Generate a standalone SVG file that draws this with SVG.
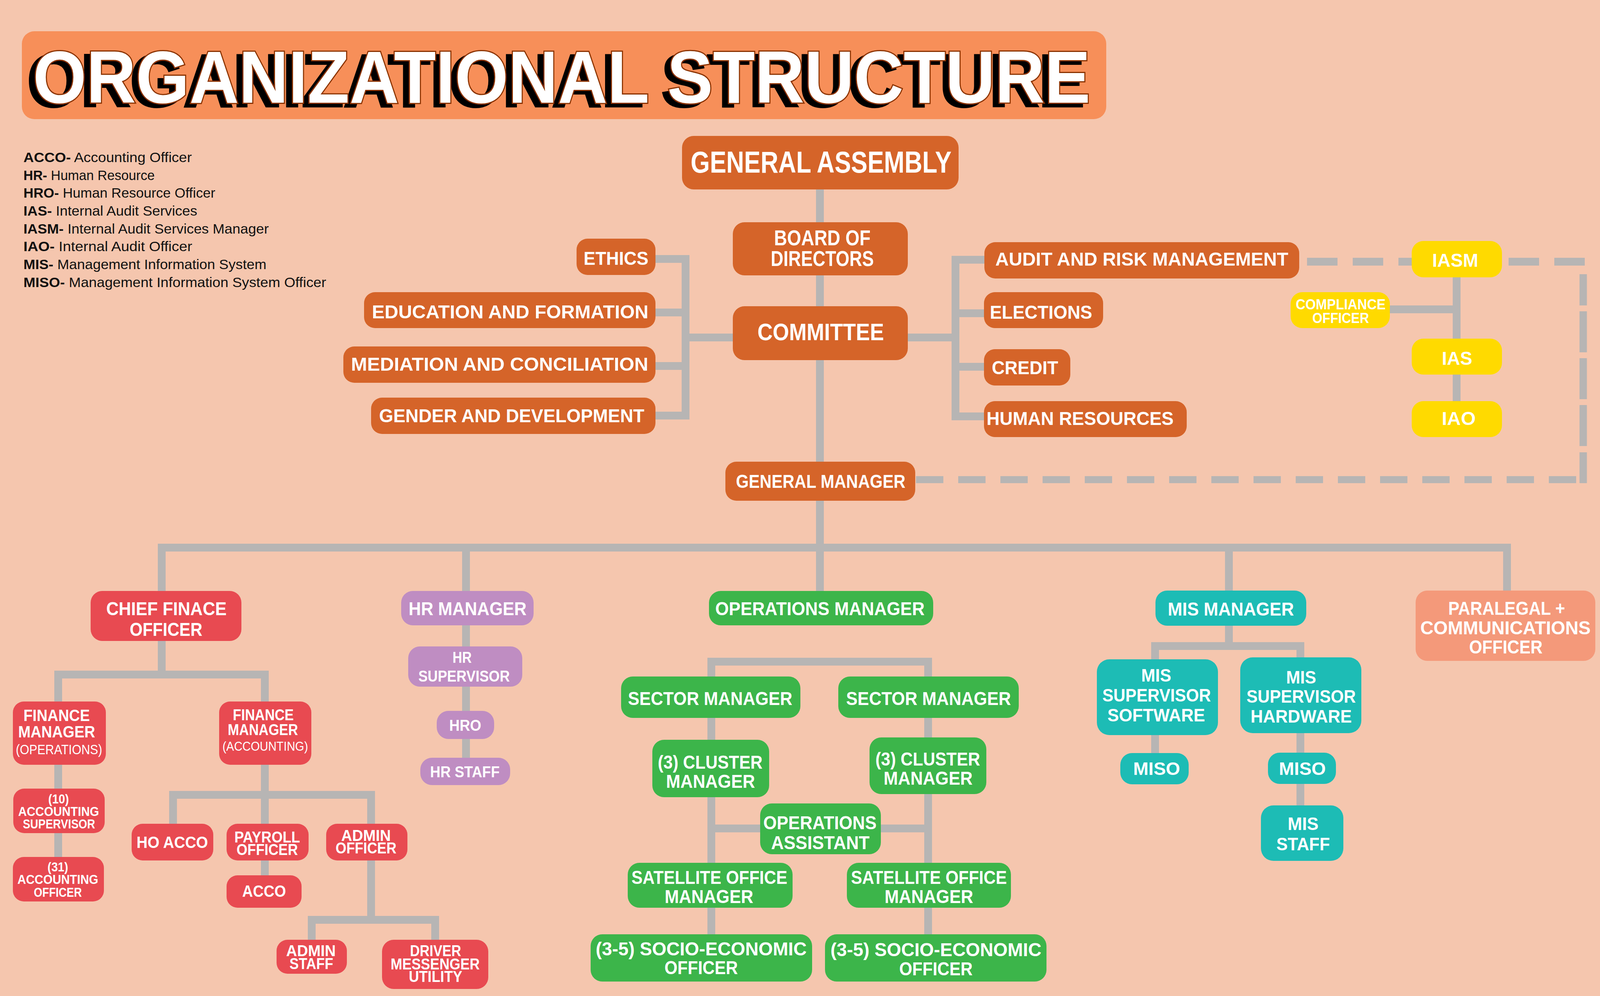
<svg xmlns="http://www.w3.org/2000/svg" width="4200" height="2550" viewBox="0 0 4200 2550">
<defs>
<filter id="sh" x="-5%" y="-20%" width="110%" height="150%">
<feOffset in="SourceAlpha" dx="-15" dy="9" result="o"/>
<feFlood flood-color="#000000"/>
<feComposite in2="o" operator="in" result="s"/>
<feMerge><feMergeNode in="s"/><feMergeNode in="SourceGraphic"/></feMerge>
</filter>
</defs>
<style>
.ln{stroke:#B7B5B4;stroke-width:20;fill:none;stroke-linejoin:miter;stroke-linecap:butt}
.d1{stroke:#B7B5B4;stroke-width:20;fill:none;stroke-dasharray:78 39}
.d2{stroke:#B7B5B4;stroke-width:18;fill:none;stroke-dasharray:70 38}
.d3{stroke:#B7B5B4;stroke-width:19;fill:none}
.o{fill:#D56429}
.y{fill:#FFDA00}
.r{fill:#E84A51}
.p{fill:#BF8DC2}
.g{fill:#3CB54A}
.t{fill:#1DBCB5}
.s{fill:#F4997A}
text{font-family:"Liberation Sans",Arial,sans-serif;font-weight:bold;fill:#FFFFFF;text-anchor:middle}
.lg{font-weight:normal;fill:#111111;text-anchor:start;font-size:35px}
.lt{font-weight:normal}
</style>
<rect width="4200" height="2550" fill="#F5C6AE"/>

<g id="title">
<rect x="56" y="80" width="2776" height="225" rx="32" fill="#F78F59"/>
<text x="1438" y="263" font-size="190" stroke="#8B3300" stroke-width="6" paint-order="stroke" filter="url(#sh)" textLength="2707" lengthAdjust="spacingAndGlyphs">ORGANIZATIONAL STRUCTURE</text>
</g>

<g id="legend">
<text class="lg" x="60" y="415" textLength="431" lengthAdjust="spacingAndGlyphs"><tspan font-weight="bold">ACCO-</tspan> Accounting Officer</text>
<text class="lg" x="60" y="461" textLength="336" lengthAdjust="spacingAndGlyphs"><tspan font-weight="bold">HR-</tspan> Human Resource</text>
<text class="lg" x="60" y="506" textLength="491" lengthAdjust="spacingAndGlyphs"><tspan font-weight="bold">HRO-</tspan> Human Resource Officer</text>
<text class="lg" x="60" y="552" textLength="445" lengthAdjust="spacingAndGlyphs"><tspan font-weight="bold">IAS-</tspan> Internal Audit Services</text>
<text class="lg" x="60" y="598" textLength="628" lengthAdjust="spacingAndGlyphs"><tspan font-weight="bold">IASM-</tspan> Internal Audit Services Manager</text>
<text class="lg" x="60" y="643" textLength="432" lengthAdjust="spacingAndGlyphs"><tspan font-weight="bold">IAO-</tspan> Internal Audit Officer</text>
<text class="lg" x="60" y="689" textLength="622" lengthAdjust="spacingAndGlyphs"><tspan font-weight="bold">MIS-</tspan> Management Information System</text>
<text class="lg" x="60" y="735" textLength="775" lengthAdjust="spacingAndGlyphs"><tspan font-weight="bold">MISO-</tspan> Management Information System Officer</text>
</g>

<g id="connectors">
<path class="ln" d="M2099,485 V1513"/>
<path class="ln" d="M1678,663 H1755 V1064 H1678 M1678,800 H1755 M1678,937 H1755 M1755,864 H1876"/>
<path class="ln" d="M2520,665 H2446 V1066 H2519 M2446,802 H2519 M2446,939 H2519 M2324,864 H2446"/>
<path class="ln" d="M3729,710 V1027 M3558,792 H3729"/>
<path class="d1" d="M3346,670 H3614"/>
<path class="d1" d="M3862,670 H4063"/>
<path class="d3" d="M4053,702 V782 M4053,797 V902 M4053,917 V1022 M4053,1037 V1142 M4053,1158 V1237"/>
<path class="d2" d="M2345,1228 H4035"/>
<path class="ln" d="M414,1513 V1402 H3858 V1512"/>
<path class="ln" d="M1193,1402 V1940"/>
<path class="ln" d="M3146,1402 V1512"/>
<path class="ln" d="M414,1641 V1727 M149,1796 V1727 H678 V1796"/>
<path class="ln" d="M149,1958 V2194 M678,1958 V2241"/>
<path class="ln" d="M443,2109 V2035 H950 V2109"/>
<path class="ln" d="M950,2203 V2355 M798,2406 V2355 H1114 V2406"/>
<path class="ln" d="M1821,2392 V1694 H2376 V2392 M1821,2121 H2376"/>
<path class="ln" d="M3146,1602 V1654 M2957,1688 V1654 H3329 V1683 M2957,1882 V1928 M3329,1877 V2062"/>
</g>

<g id="general-assembly"><rect class="o" x="1746" y="348" width="708" height="137" rx="30"/><text x="2102" y="442" font-size="77" textLength="668" lengthAdjust="spacingAndGlyphs">GENERAL ASSEMBLY</text></g>
<g id="board-of-directors"><rect class="o" x="1876" y="569" width="448" height="136" rx="30"/><text x="2105" y="628" font-size="56" textLength="247" lengthAdjust="spacingAndGlyphs">BOARD OF</text><text x="2105" y="681" font-size="56" textLength="264" lengthAdjust="spacingAndGlyphs">DIRECTORS</text></g>
<g id="committee"><rect class="o" x="1876" y="784" width="448" height="138" rx="30"/><text x="2101" y="871" font-size="62" textLength="324" lengthAdjust="spacingAndGlyphs">COMMITTEE</text></g>
<g id="general-manager"><rect class="o" x="1857" y="1182" width="486" height="100" rx="28"/><text x="2101" y="1249" font-size="48" textLength="434" lengthAdjust="spacingAndGlyphs">GENERAL MANAGER</text></g>
<g id="ethics"><rect class="o" x="1476" y="611" width="202" height="93" rx="28"/><text x="1577" y="678" font-size="49" textLength="166" lengthAdjust="spacingAndGlyphs">ETHICS</text></g>
<g id="education"><rect class="o" x="932" y="748" width="746" height="92" rx="28"/><text x="1306" y="815" font-size="49" textLength="708" lengthAdjust="spacingAndGlyphs">EDUCATION AND FORMATION</text></g>
<g id="mediation"><rect class="o" x="879" y="887" width="799" height="93" rx="28"/><text x="1279" y="949" font-size="49" textLength="761" lengthAdjust="spacingAndGlyphs">MEDIATION AND CONCILIATION</text></g>
<g id="gender"><rect class="o" x="950" y="1018" width="728" height="93" rx="28"/><text x="1310" y="1081" font-size="49" textLength="679" lengthAdjust="spacingAndGlyphs">GENDER AND DEVELOPMENT</text></g>
<g id="audit"><rect class="o" x="2520" y="620" width="806" height="93" rx="28"/><text x="2923" y="680" font-size="49" textLength="750" lengthAdjust="spacingAndGlyphs">AUDIT AND RISK MANAGEMENT</text></g>
<g id="elections"><rect class="o" x="2519" y="748" width="305" height="92" rx="28"/><text x="2665" y="816" font-size="49" textLength="262" lengthAdjust="spacingAndGlyphs">ELECTIONS</text></g>
<g id="credit"><rect class="o" x="2519" y="894" width="221" height="93" rx="28"/><text x="2624" y="958" font-size="49" textLength="170" lengthAdjust="spacingAndGlyphs">CREDIT</text></g>
<g id="human-resources"><rect class="o" x="2519" y="1027" width="519" height="92" rx="28"/><text x="2765" y="1088" font-size="49" textLength="479" lengthAdjust="spacingAndGlyphs">HUMAN RESOURCES</text></g>

<g id="iasm"><rect class="y" x="3614" y="617" width="231" height="93" rx="30"/><text x="3725" y="683" font-size="49" textLength="118" lengthAdjust="spacingAndGlyphs">IASM</text></g>
<g id="compliance"><rect class="y" x="3304" y="748" width="254" height="92" rx="30"/><text x="3432" y="792" font-size="36" textLength="230" lengthAdjust="spacingAndGlyphs">COMPLIANCE</text><text x="3432" y="827" font-size="36" textLength="145" lengthAdjust="spacingAndGlyphs">OFFICER</text></g>
<g id="ias"><rect class="y" x="3614" y="867" width="231" height="92" rx="30"/><text x="3730" y="934" font-size="49" textLength="78" lengthAdjust="spacingAndGlyphs">IAS</text></g>
<g id="iao"><rect class="y" x="3614" y="1027" width="231" height="92" rx="30"/><text x="3734" y="1088" font-size="49" textLength="87" lengthAdjust="spacingAndGlyphs">IAO</text></g>

<g id="cfo"><rect class="r" x="232" y="1513" width="386" height="128" rx="30"/><text x="426" y="1575" font-size="48" textLength="308" lengthAdjust="spacingAndGlyphs">CHIEF FINACE</text><text x="425" y="1628" font-size="48" textLength="186" lengthAdjust="spacingAndGlyphs">OFFICER</text></g>
<g id="fm-operations"><rect class="r" x="33" y="1796" width="238" height="162" rx="28"/><text x="145" y="1846" font-size="42" textLength="170" lengthAdjust="spacingAndGlyphs">FINANCE</text><text x="145" y="1888" font-size="42" textLength="197" lengthAdjust="spacingAndGlyphs">MANAGER</text><text class="lt" x="151" y="1931" font-size="35" textLength="221" lengthAdjust="spacingAndGlyphs">(OPERATIONS)</text></g>
<g id="fm-accounting"><rect class="r" x="561" y="1796" width="236" height="162" rx="28"/><text x="674" y="1844" font-size="40" textLength="156" lengthAdjust="spacingAndGlyphs">FINANCE</text><text x="673" y="1882" font-size="40" textLength="180" lengthAdjust="spacingAndGlyphs">MANAGER</text><text class="lt" x="679" y="1922" font-size="33" textLength="219" lengthAdjust="spacingAndGlyphs">(ACCOUNTING)</text></g>
<g id="acc-supervisor"><rect class="r" x="34" y="2019" width="234" height="114" rx="28"/><text x="150" y="2057" font-size="33" textLength="53" lengthAdjust="spacingAndGlyphs">(10)</text><text x="150" y="2089" font-size="33" textLength="207" lengthAdjust="spacingAndGlyphs">ACCOUNTING</text><text x="151" y="2121" font-size="33" textLength="185" lengthAdjust="spacingAndGlyphs">SUPERVISOR</text></g>
<g id="acc-officer"><rect class="r" x="33" y="2194" width="233" height="114" rx="28"/><text x="148" y="2231" font-size="33" textLength="53" lengthAdjust="spacingAndGlyphs">(31)</text><text x="148" y="2263" font-size="33" textLength="207" lengthAdjust="spacingAndGlyphs">ACCOUNTING</text><text x="148" y="2296" font-size="33" textLength="123" lengthAdjust="spacingAndGlyphs">OFFICER</text></g>
<g id="ho-acco"><rect class="r" x="337" y="2109" width="209" height="94" rx="28"/><text x="441" y="2171" font-size="42" textLength="183" lengthAdjust="spacingAndGlyphs">HO ACCO</text></g>
<g id="payroll"><rect class="r" x="580" y="2109" width="210" height="94" rx="28"/><text x="684" y="2157" font-size="40" textLength="168" lengthAdjust="spacingAndGlyphs">PAYROLL</text><text x="684" y="2189" font-size="40" textLength="157" lengthAdjust="spacingAndGlyphs">OFFICER</text></g>
<g id="acco"><rect class="r" x="580" y="2241" width="192" height="83" rx="28"/><text x="676" y="2296" font-size="42" textLength="112" lengthAdjust="spacingAndGlyphs">ACCO</text></g>
<g id="admin-officer"><rect class="r" x="835" y="2109" width="208" height="94" rx="28"/><text x="937" y="2153" font-size="40" textLength="127" lengthAdjust="spacingAndGlyphs">ADMIN</text><text x="937" y="2185" font-size="40" textLength="156" lengthAdjust="spacingAndGlyphs">OFFICER</text></g>
<g id="admin-staff"><rect class="r" x="708" y="2406" width="180" height="87" rx="28"/><text x="796" y="2448" font-size="40" textLength="127" lengthAdjust="spacingAndGlyphs">ADMIN</text><text x="797" y="2481" font-size="40" textLength="112" lengthAdjust="spacingAndGlyphs">STAFF</text></g>
<g id="driver"><rect class="r" x="978" y="2406" width="272" height="126" rx="30"/><text x="1115" y="2448" font-size="40" textLength="131" lengthAdjust="spacingAndGlyphs">DRIVER</text><text x="1114" y="2482" font-size="40" textLength="228" lengthAdjust="spacingAndGlyphs">MESSENGER</text><text x="1115" y="2514" font-size="40" textLength="137" lengthAdjust="spacingAndGlyphs">UTILITY</text></g>

<g id="hr-manager"><rect class="p" x="1027" y="1513" width="339" height="88" rx="30"/><text x="1197" y="1575" font-size="48" textLength="302" lengthAdjust="spacingAndGlyphs">HR MANAGER</text></g>
<g id="hr-supervisor"><rect class="p" x="1045" y="1655" width="292" height="103" rx="30"/><text x="1183" y="1697" font-size="40" textLength="49" lengthAdjust="spacingAndGlyphs">HR</text><text x="1188" y="1745" font-size="40" textLength="234" lengthAdjust="spacingAndGlyphs">SUPERVISOR</text></g>
<g id="hro"><rect class="p" x="1118" y="1820" width="147" height="72" rx="30"/><text x="1191" y="1871" font-size="40" textLength="82" lengthAdjust="spacingAndGlyphs">HRO</text></g>
<g id="hr-staff"><rect class="p" x="1076" y="1940" width="230" height="70" rx="30"/><text x="1190" y="1990" font-size="40" textLength="178" lengthAdjust="spacingAndGlyphs">HR STAFF</text></g>

<g id="operations-manager"><rect class="g" x="1815" y="1513" width="574" height="88" rx="30"/><text x="2099" y="1575" font-size="48" textLength="536" lengthAdjust="spacingAndGlyphs">OPERATIONS MANAGER</text></g>
<g id="sector-manager-1"><rect class="g" x="1590" y="1732" width="459" height="106" rx="30"/><text x="1818" y="1805" font-size="48" textLength="421" lengthAdjust="spacingAndGlyphs">SECTOR MANAGER</text></g>
<g id="sector-manager-2"><rect class="g" x="2146" y="1732" width="462" height="106" rx="30"/><text x="2377" y="1805" font-size="48" textLength="422" lengthAdjust="spacingAndGlyphs">SECTOR MANAGER</text></g>
<g id="cluster-manager-1"><rect class="g" x="1670" y="1894" width="299" height="147" rx="30"/><text x="1818" y="1968" font-size="48" textLength="268" lengthAdjust="spacingAndGlyphs">(3) CLUSTER</text><text x="1819" y="2017" font-size="48" textLength="228" lengthAdjust="spacingAndGlyphs">MANAGER</text></g>
<g id="cluster-manager-2"><rect class="g" x="2226" y="1888" width="299" height="145" rx="30"/><text x="2375" y="1960" font-size="48" textLength="268" lengthAdjust="spacingAndGlyphs">(3) CLUSTER</text><text x="2376" y="2009" font-size="48" textLength="228" lengthAdjust="spacingAndGlyphs">MANAGER</text></g>
<g id="operations-assistant"><rect class="g" x="1946" y="2057" width="309" height="130" rx="30"/><text x="2099" y="2123" font-size="48" textLength="290" lengthAdjust="spacingAndGlyphs">OPERATIONS</text><text x="2100" y="2174" font-size="48" textLength="252" lengthAdjust="spacingAndGlyphs">ASSISTANT</text></g>
<g id="satellite-1"><rect class="g" x="1607" y="2209" width="422" height="115" rx="30"/><text x="1816" y="2263" font-size="48" textLength="399" lengthAdjust="spacingAndGlyphs">SATELLITE OFFICE</text><text x="1815" y="2312" font-size="48" textLength="227" lengthAdjust="spacingAndGlyphs">MANAGER</text></g>
<g id="satellite-2"><rect class="g" x="2168" y="2209" width="420" height="115" rx="30"/><text x="2378" y="2263" font-size="48" textLength="399" lengthAdjust="spacingAndGlyphs">SATELLITE OFFICE</text><text x="2378" y="2312" font-size="48" textLength="227" lengthAdjust="spacingAndGlyphs">MANAGER</text></g>
<g id="socio-1"><rect class="g" x="1512" y="2392" width="567" height="121" rx="30"/><text x="1795" y="2446" font-size="48" textLength="540" lengthAdjust="spacingAndGlyphs">(3-5) SOCIO-ECONOMIC</text><text x="1795" y="2494" font-size="48" textLength="188" lengthAdjust="spacingAndGlyphs">OFFICER</text></g>
<g id="socio-2"><rect class="g" x="2112" y="2392" width="567" height="121" rx="30"/><text x="2396" y="2448" font-size="48" textLength="540" lengthAdjust="spacingAndGlyphs">(3-5) SOCIO-ECONOMIC</text><text x="2396" y="2497" font-size="48" textLength="188" lengthAdjust="spacingAndGlyphs">OFFICER</text></g>

<g id="mis-manager"><rect class="t" x="2958" y="1512" width="386" height="90" rx="30"/><text x="3151" y="1576" font-size="48" textLength="323" lengthAdjust="spacingAndGlyphs">MIS MANAGER</text></g>
<g id="mis-supervisor-software"><rect class="t" x="2808" y="1688" width="310" height="194" rx="32"/><text x="2960" y="1745" font-size="46" textLength="77" lengthAdjust="spacingAndGlyphs">MIS</text><text x="2961" y="1796" font-size="46" textLength="278" lengthAdjust="spacingAndGlyphs">SUPERVISOR</text><text x="2960" y="1847" font-size="46" textLength="250" lengthAdjust="spacingAndGlyphs">SOFTWARE</text></g>
<g id="mis-supervisor-hardware"><rect class="t" x="3175" y="1683" width="310" height="194" rx="32"/><text x="3331" y="1750" font-size="46" textLength="77" lengthAdjust="spacingAndGlyphs">MIS</text><text x="3331" y="1799" font-size="46" textLength="280" lengthAdjust="spacingAndGlyphs">SUPERVISOR</text><text x="3331" y="1850" font-size="46" textLength="259" lengthAdjust="spacingAndGlyphs">HARDWARE</text></g>
<g id="miso-1"><rect class="t" x="2868" y="1928" width="175" height="80" rx="30"/><text x="2961" y="1984" font-size="46" textLength="120" lengthAdjust="spacingAndGlyphs">MISO</text></g>
<g id="miso-2"><rect class="t" x="3246" y="1927" width="174" height="80" rx="30"/><text x="3334" y="1984" font-size="46" textLength="120" lengthAdjust="spacingAndGlyphs">MISO</text></g>
<g id="mis-staff"><rect class="t" x="3228" y="2062" width="211" height="142" rx="32"/><text x="3336" y="2125" font-size="46" textLength="79" lengthAdjust="spacingAndGlyphs">MIS</text><text x="3336" y="2177" font-size="46" textLength="137" lengthAdjust="spacingAndGlyphs">STAFF</text></g>

<g id="paralegal"><rect class="s" x="3624" y="1512" width="460" height="180" rx="30"/><text x="3857" y="1574" font-size="48" textLength="299" lengthAdjust="spacingAndGlyphs">PARALEGAL +</text><text x="3854" y="1624" font-size="48" textLength="436" lengthAdjust="spacingAndGlyphs">COMMUNICATIONS</text><text x="3855" y="1673" font-size="48" textLength="188" lengthAdjust="spacingAndGlyphs">OFFICER</text></g>
</svg>
